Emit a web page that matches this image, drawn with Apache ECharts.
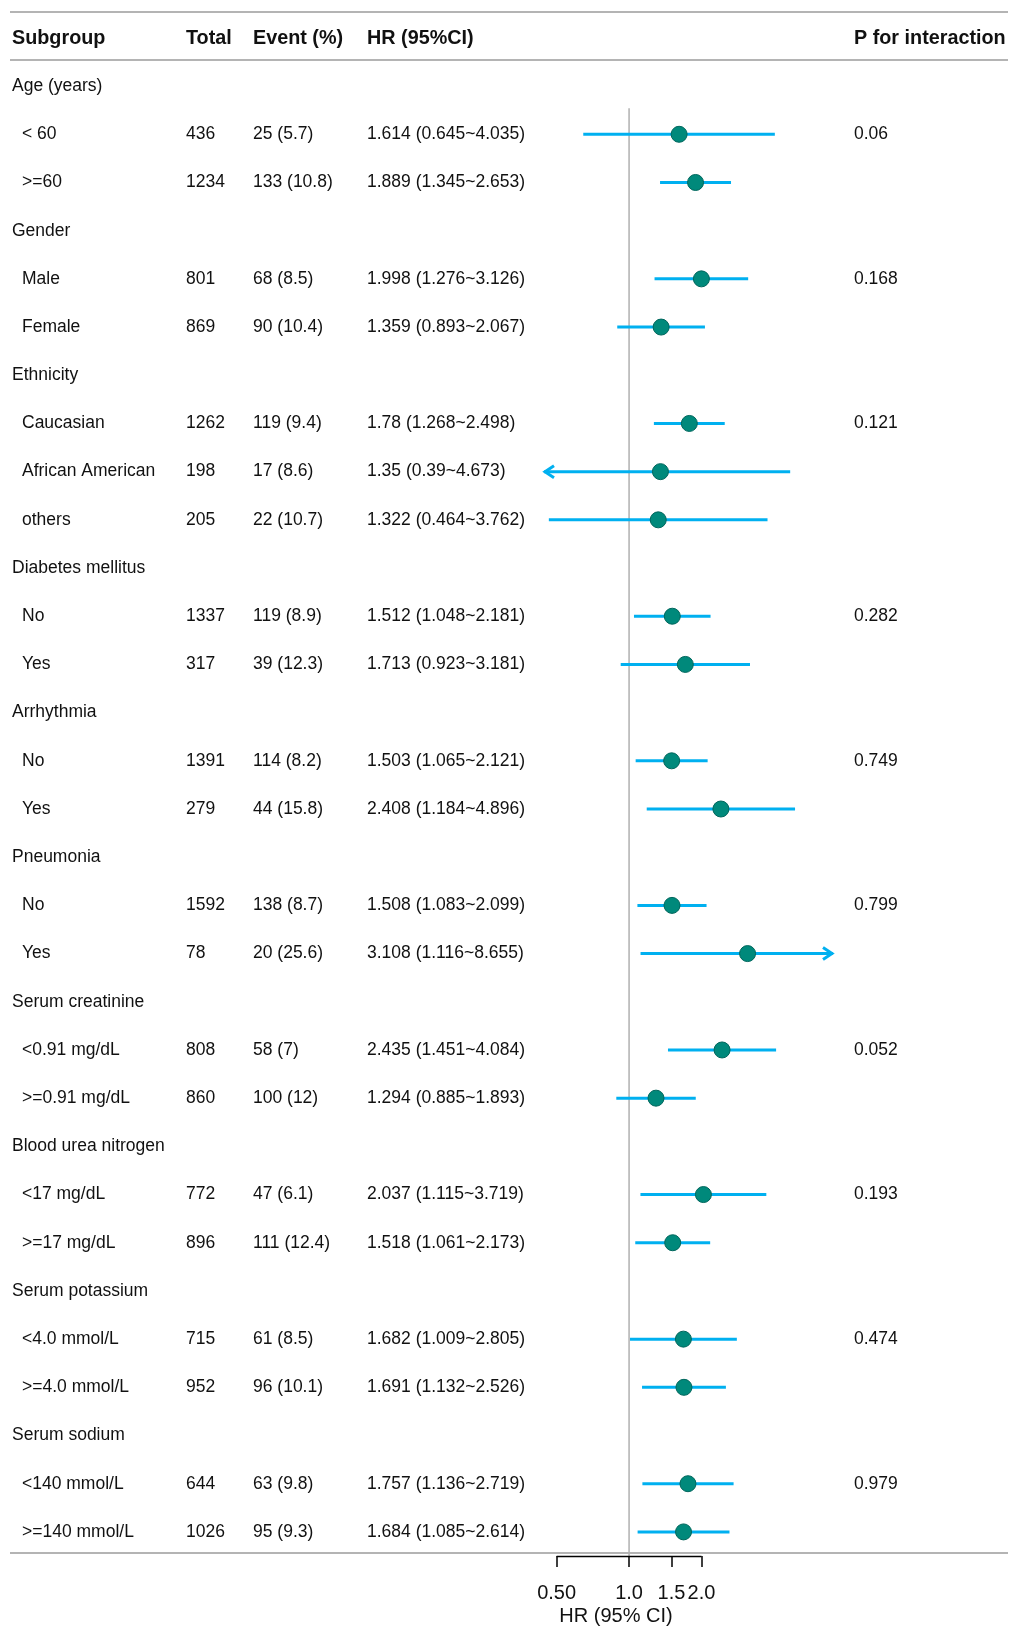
<!DOCTYPE html>
<html><head><meta charset="utf-8">
<script src="https://cdn.jsdelivr.net/npm/echarts@6/dist/echarts.min.js"></script>
<style>html,body{margin:0;padding:0;background:#fff}#chart{width:1018px;height:1637px}</style>
</head><body><div id="chart"></div>
<script>
// ---------------- data ----------------
const headers = ['Subgroup', 'Total', 'Event (%)', 'HR (95%CI)', 'P for interaction'];
const subgroups = ['Age (years)', '< 60', '>=60', 'Gender', 'Male', 'Female', 'Ethnicity', 'Caucasian', 'African American', 'others',
  'Diabetes mellitus', 'No', 'Yes', 'Arrhythmia', 'No', 'Yes', 'Pneumonia', 'No', 'Yes',
  'Serum creatinine', '<0.91 mg/dL', '>=0.91 mg/dL', 'Blood urea nitrogen', '<17 mg/dL', '>=17 mg/dL',
  'Serum potassium', '<4.0 mmol/L', '>=4.0 mmol/L', 'Serum sodium', '<140 mmol/L', '>=140 mmol/L'];
const totals = ['', '436', '1234', '', '801', '869', '', '1262', '198', '205', '', '1337', '317', '', '1391', '279', '', '1592', '78',
  '', '808', '860', '', '772', '896', '', '715', '952', '', '644', '1026'];
const events = ['', '25 (5.7)', '133 (10.8)', '', '68 (8.5)', '90 (10.4)', '', '119 (9.4)', '17 (8.6)', '22 (10.7)', '', '119 (8.9)', '39 (12.3)',
  '', '114 (8.2)', '44 (15.8)', '', '138 (8.7)', '20 (25.6)', '', '58 (7)', '100 (12)', '', '47 (6.1)', '111 (12.4)',
  '', '61 (8.5)', '96 (10.1)', '', '63 (9.8)', '95 (9.3)'];
const hr = [null, 1.614, 1.889, null, 1.998, 1.359, null, 1.78, 1.35, 1.322, null, 1.512, 1.713, null, 1.503, 2.408, null, 1.508, 3.108,
  null, 2.435, 1.294, null, 2.037, 1.518, null, 1.682, 1.691, null, 1.757, 1.684];
const lower = [null, 0.645, 1.345, null, 1.276, 0.893, null, 1.268, 0.39, 0.464, null, 1.048, 0.923, null, 1.065, 1.184, null, 1.083, 1.116,
  null, 1.451, 0.885, null, 1.115, 1.061, null, 1.009, 1.132, null, 1.136, 1.085];
const upper = [null, 4.035, 2.653, null, 3.126, 2.067, null, 2.498, 4.673, 3.762, null, 2.181, 3.181, null, 2.121, 4.896, null, 2.099, 8.655,
  null, 4.084, 1.893, null, 3.719, 2.173, null, 2.805, 2.526, null, 2.719, 2.614];
const pValues = ['', '0.06', '', '', '0.168', '', '', '0.121', '', '', '', '0.282', '', '', '0.749', '', '', '0.799', '',
  '', '0.052', '', '', '0.193', '', '', '0.474', '', '', '0.979', ''];
const tickValues = [0.5, 1, 1.5, 2];
const tickLabels = ['0.50', '1.0', '1.5', '2.0'];
const xMin = 0.443, xMax = 7.04;   // plotting window (HR)
const refValue = 1;

// ---------------- layout / style ----------------
const FONT = "'Liberation Sans', Arial, Helvetica, sans-serif";
const TXT = '#111';
const colX = [12, 186, 253, 367, 854];
const indentX = 22;
const RULE = '#b4b4b4';
const CI_COLOR = '#00b0f0';
const PT_COLOR = '#00897b';
const ln = Math.log;
const nRows = subgroups.length;
const rowIdx = subgroups.map((s, i) => i);
const dataRows = rowIdx.filter(i => hr[i] != null);

const chart = echarts.init(document.getElementById('chart'), null, { renderer: 'canvas' });

const option = {
  animation: false,
  backgroundColor: '#fff',
  grid: { left: 544, width: 289, top: 62, height: 1494 },
  xAxis: {
    type: 'value', min: ln(xMin), max: ln(xMax),
    axisLine: { show: false },
    splitLine: { show: false },
    axisTick: { show: true, customValues: tickValues.map(ln), length: 11, lineStyle: { color: '#000', width: 1.5 } },
    axisLabel: {
      customValues: tickValues.map(ln), margin: 27, fontSize: 20, color: TXT, fontFamily: FONT,
      formatter: v => { const k = tickValues.findIndex(t => Math.abs(ln(t) - v) < 1e-6); return k >= 0 ? tickLabels[k] : ''; }
    }
  },
  yAxis: {
    type: 'category', inverse: true, data: rowIdx.map(String),
    axisLine: { show: false }, axisTick: { show: false }, axisLabel: { show: false }, splitLine: { show: false }
  },
  graphic: [
    { type: 'line', shape: { x1: 10, y1: 12, x2: 1008, y2: 12 }, style: { stroke: RULE, lineWidth: 2 } },
    { type: 'line', shape: { x1: 10, y1: 60, x2: 1008, y2: 60 }, style: { stroke: RULE, lineWidth: 2 } },
    { type: 'line', shape: { x1: 10, y1: 1553, x2: 1008, y2: 1553 }, style: { stroke: RULE, lineWidth: 2 } },
    ...headers.map((h, k) => ({
      type: 'text', x: colX[k], y: 38.5,
      style: { text: h, fill: TXT, fontSize: 19.8, fontWeight: 'bold', fontFamily: FONT, verticalAlign: 'middle', align: 'left' }
    })),
    { type: 'text', x: 616, y: 1616, style: { text: 'HR (95% CI)', fill: TXT, fontSize: 20, fontFamily: FONT, align: 'center', verticalAlign: 'middle' } }
  ],
  series: [
    { // reference line at HR = 1
      type: 'custom', z: 1, silent: true,
      data: [[ln(refValue), 1]],
      renderItem: (params, api) => {
        const top = api.coord([api.value(0), api.value(1)]);
        const band = api.size([0, 1])[1];
        const bottom = api.coord([api.value(0), nRows - 1])[1] + band / 2;
        return { type: 'line', shape: { x1: top[0], y1: top[1] - band / 2 - 2, x2: top[0], y2: bottom }, style: { stroke: '#b0b0b0', lineWidth: 1.5 } };
      }
    },
    { // visible axis segment
      type: 'custom', z: 2, silent: true,
      data: [[ln(tickValues[0]), ln(tickValues[tickValues.length - 1]), nRows - 1]],
      renderItem: (params, api) => {
        const a = api.coord([api.value(0), api.value(2)]);
        const b = api.coord([api.value(1), api.value(2)]);
        const band = api.size([0, 1])[1];
        const y = a[1] + band / 2 + 0.5;
        return { type: 'line', shape: { x1: a[0], y1: y, x2: b[0], y2: y }, style: { stroke: '#000', lineWidth: 1.5 } };
      }
    },
    { // confidence intervals
      type: 'custom', z: 3, silent: true,
      encode: { x: [0, 1], y: 2 },
      data: dataRows.map(i => [ln(Math.max(lower[i], xMin)), ln(Math.min(upper[i], xMax)), i, lower[i] < xMin ? 1 : 0, upper[i] > xMax ? 1 : 0]),
      renderItem: (params, api) => {
        const p1 = api.coord([api.value(0), api.value(2)]);
        const p2 = api.coord([api.value(1), api.value(2)]);
        const st = { stroke: CI_COLOR, lineWidth: 3, fill: null, lineCap: 'butt', lineJoin: 'miter' };
        const ch = [{ type: 'line', shape: { x1: p1[0], y1: p1[1], x2: p2[0], y2: p2[1] }, style: st }];
        if (api.value(3)) ch.push({ type: 'polyline', shape: { points: [[p1[0] + 10, p1[1] - 6], [p1[0] + 1, p1[1]], [p1[0] + 10, p1[1] + 6]] }, style: st });
        if (api.value(4)) ch.push({ type: 'polyline', shape: { points: [[p2[0] - 10, p2[1] - 6], [p2[0] - 1, p2[1]], [p2[0] - 10, p2[1] + 6]] }, style: st });
        return { type: 'group', children: ch };
      }
    },
    { // point estimates
      type: 'scatter', z: 4, silent: true,
      symbol: 'circle', symbolSize: 16,
      itemStyle: { color: PT_COLOR, borderColor: '#00665c', borderWidth: 1, opacity: 1 },
      data: dataRows.map(i => [ln(hr[i]), i])
    },
    { // table text
      type: 'custom', z: 5, silent: true,
      encode: { x: 0, y: 1 },
      data: rowIdx.map(i => [0, i]),
      renderItem: (params, api) => {
        const i = api.value(1);
        const y = api.coord([0, i])[1];
        const isGroup = hr[i] == null;
        const mk = (x, t) => ({ type: 'text', x: x, y: y, style: { text: t, fill: TXT, fontSize: 17.5, fontFamily: FONT, verticalAlign: 'middle', align: 'left' } });
        const ch = [mk(isGroup ? colX[0] : indentX, subgroups[i])];
        if (!isGroup) {
          ch.push(mk(colX[1], totals[i]));
          ch.push(mk(colX[2], events[i]));
          ch.push(mk(colX[3], hr[i] + ' (' + lower[i] + '~' + upper[i] + ')'));
          if (pValues[i]) ch.push(mk(colX[4], pValues[i]));
        }
        return { type: 'group', children: ch };
      }
    }
  ]
};
chart.setOption(option);
</script>
</body></html>
